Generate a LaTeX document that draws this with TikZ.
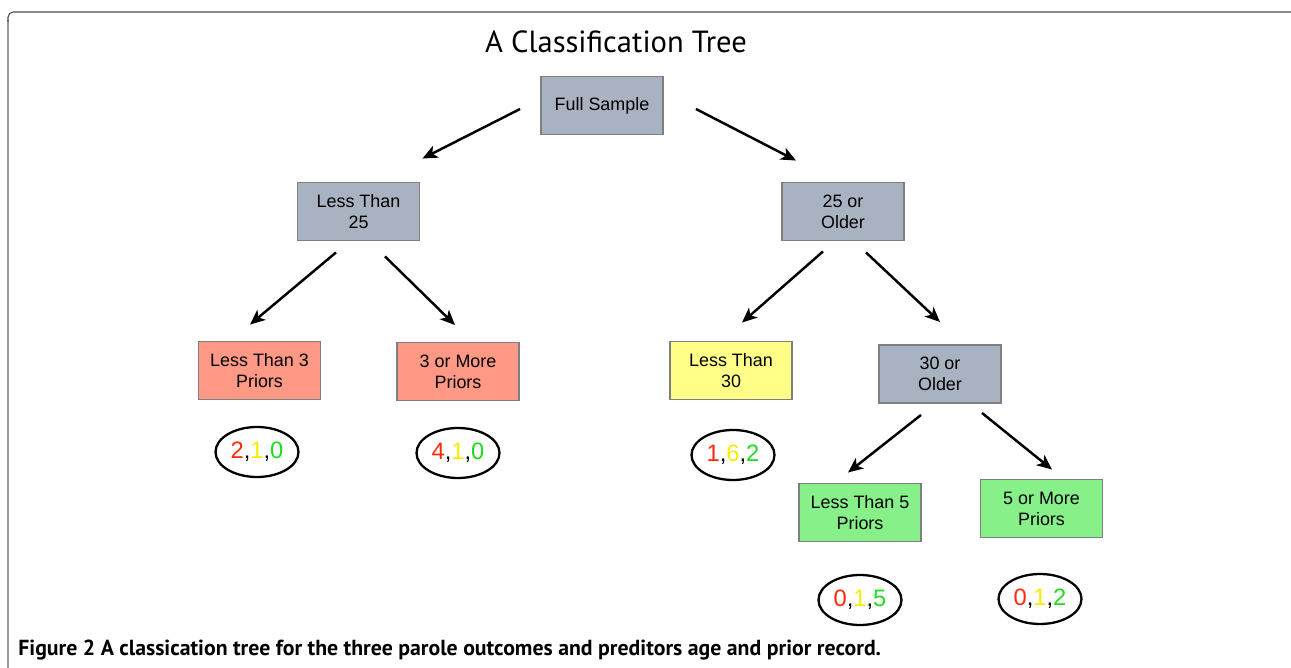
\documentclass[tikz,border=0pt]{standalone}
\usepackage{fontspec}
\setmainfont{Liberation Sans}
\newfontfamily\titlefont{PT Sans}
\usetikzlibrary{arrows.meta,shapes.geometric}
\definecolor{SplitClr}{HTML}{A8B2C1}
\definecolor{LowClr}{HTML}{FF9985}
\definecolor{MidClr}{HTML}{FFFF88}
\definecolor{HighClr}{HTML}{88F088}
\definecolor{BorderClr}{HTML}{7F7F7F}
\definecolor{RedClr}{HTML}{FF2A0E}
\definecolor{YelClr}{HTML}{F2EE00}
\definecolor{GrnClr}{HTML}{1EDC1E}
\definecolor{FrameClr}{HTML}{9A9A9A}
\newcommand{\tally}[3]{\textcolor{RedClr}{#1},\textcolor{YelClr}{#2},\textcolor{GrnClr}{#3}}

\begin{document}
\begin{tikzpicture}[x=0.02cm,y=-0.02cm,
  box/.style={draw=BorderClr,line width=1.1pt,minimum width=2.44cm,minimum height=1.16cm,
    align=center,inner sep=2pt,font=\fontsize{10.2}{12}\selectfont},
  tallybox/.style={ellipse,draw,line width=1.3pt,minimum width=1.66cm,minimum height=1cm,
    inner sep=0pt,font=\fontsize{13.5}{15}\selectfont},
  arr/.style={-{Stealth[length=0.3cm,width=0.26cm,inset=0.08cm]},line width=1.4pt}]
\useasboundingbox (0,0) rectangle (1291,668);

\draw[FrameClr,line width=0.6pt] (8,668) -- (8,20);
\draw[black!70,line width=0.6pt,rounded corners=3pt] (8,22) -- (8,12) -- (1291,12);

\node[font=\titlefont\fontsize{17.4}{22}\selectfont] (title) at (616,42) {A Classification Tree};

\node[box,fill=SplitClr] (fs) at (602,105.5) {Full Sample};
\node[box,fill=SplitClr] (lt25) at (358.5,211.5) {Less Than\\25};
\node[box,fill=SplitClr] (o25) at (843,211.5) {25 or\\Older};
\node[box,fill=LowClr] (lt3) at (259.5,370.5) {Less Than 3\\Priors};
\node[box,fill=LowClr] (m3) at (458,371.5) {3 or More\\Priors};
\node[box,fill=MidClr] (lt30) at (731,370.5) {Less Than\\30};
\node[box,fill=SplitClr] (o30) at (940,374) {30 or\\Older};
\node[box,fill=HighClr] (lt5) at (860,512.5) {Less Than 5\\Priors};
\node[box,fill=HighClr] (m5) at (1041.5,508.5) {5 or More\\Priors};

\node[tallybox] (t1) at (257,452) {\tally{2}{1}{0}};
\node[tallybox] (t2) at (458,453) {\tally{4}{1}{0}};
\node[tallybox] (t3) at (733,455) {\tally{1}{6}{2}};
\node[tallybox] (t4) at (860,600) {\tally{0}{1}{5}};
\node[tallybox] (t5) at (1040,599) {\tally{0}{1}{2}};

\draw[arr] ([shift={(-20,3.5)}]fs.west) -- ([shift={(2,-23)}]lt25.north east);
\draw[arr] ([shift={(32,3.5)}]fs.east) -- ([shift={(15,-21)}]o25.north west);
\draw[arr] ([shift={(-22.5,11)}]lt25.south) -- ([shift={(-9.5,-16)}]lt3.north);
\draw[arr] ([shift={(26.5,15)}]lt25.south) -- ([shift={(-3,-16.5)}]m3.north);
\draw[arr] ([shift={(-20,10)}]o25.south) -- ([shift={(11,-18)}]lt30.north);
\draw[arr] ([shift={(23,11)}]o25.south) -- ([shift={(0,-22)}]o30.north);
\draw[arr] ([shift={(-19,11)}]o30.south) -- ([shift={(-12,-10)}]lt5.north);
\draw[arr] ([shift={(42,9)}]o30.south) -- ([shift={(10.5,-9)}]m5.north);

\node[anchor=west,inner sep=0pt,font=\titlefont\fontsize{12.4}{14}\selectfont\bfseries] (caption) at (18,650)
  {Figure 2 A classication tree for the three parole outcomes and preditors age and prior record.};
\end{tikzpicture}
\end{document}
